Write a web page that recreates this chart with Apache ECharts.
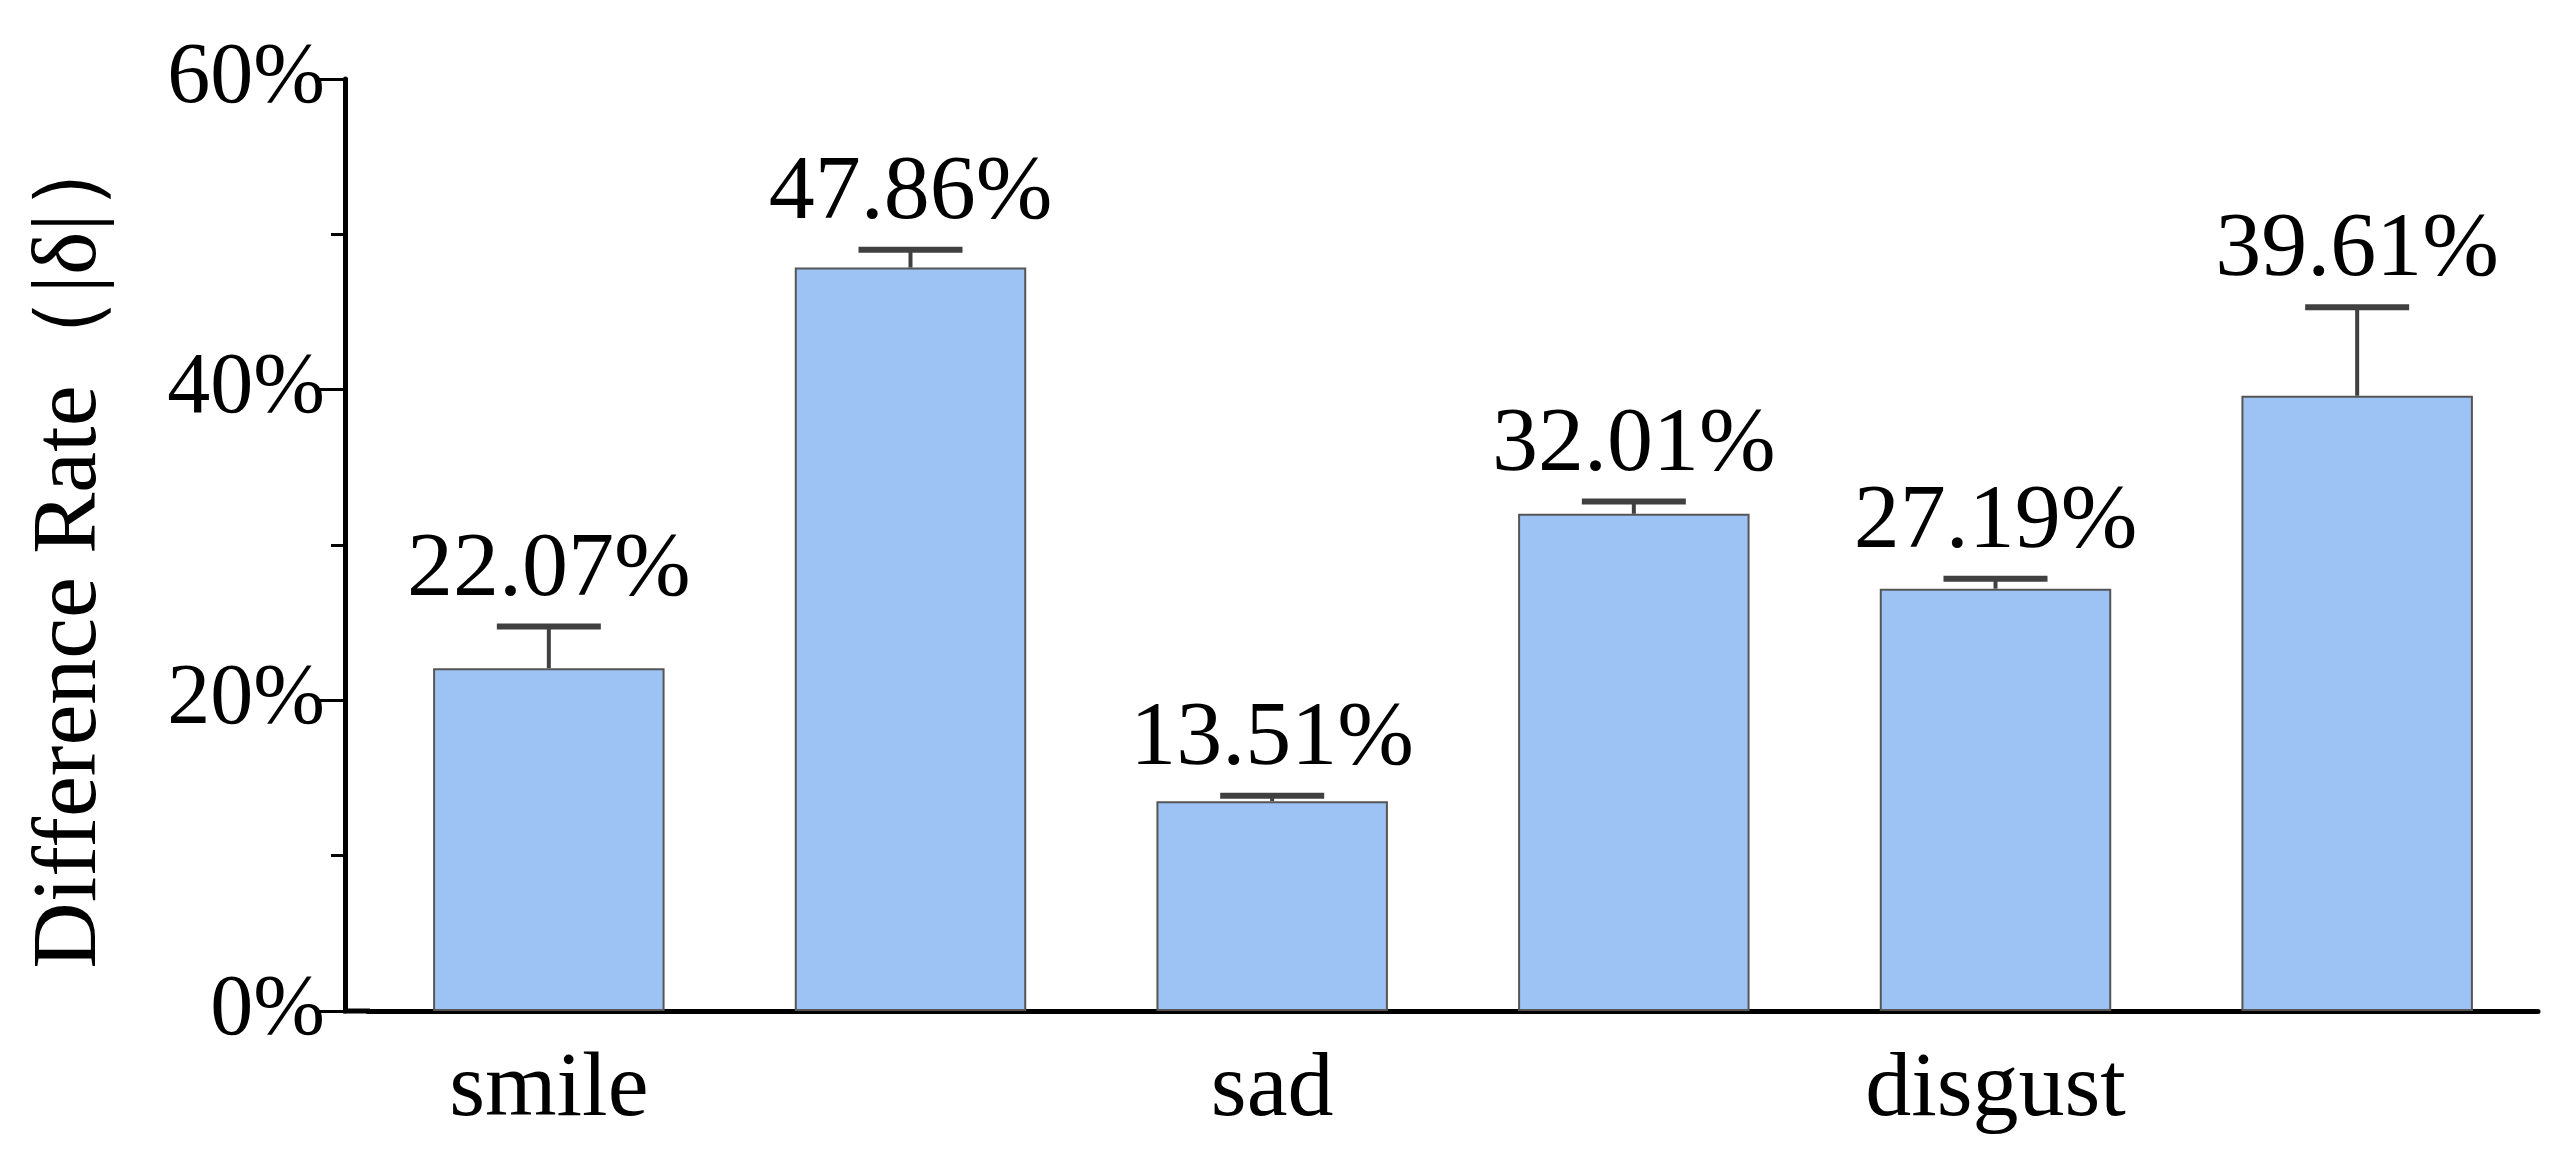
<!DOCTYPE html>
<html><head><meta charset="utf-8">
<script src="https://cdn.jsdelivr.net/npm/echarts@6/dist/echarts.min.js"></script>
<style>html,body{margin:0;padding:0;background:#fff}#c{width:2564px;height:1168px}</style>
</head><body><div id="c"></div>
<script>
const categories = ['smile','anger','sad','surprise','disgust','fear'];
const values = [22.07, 47.86, 13.51, 32.01, 27.19, 39.61];
const errorTops = [24.76, 49.0, 13.86, 32.8, 27.83, 45.3];
const yTicks = [0, 20, 40, 60];

const F = 'Liberation Serif, Times New Roman, serif';
const chart = echarts.init(document.getElementById('c'));
chart.setOption({
  animation: false,
  grid: {left: 368, right: 26, top: 79, bottom: 157},
  graphic: [{type: 'line', shape: {x1: 343, y1: 1011, x2: 370, y2: 1011}, style: {stroke: '#000', lineWidth: 5}}],
  xAxis: {
    type: 'category', data: categories,
    axisLine: {lineStyle: {color: '#000', width: 5}},
    axisTick: {alignWithLabel: true, length: 26, lineStyle: {color: '#000', width: 3}},
    axisLabel: {fontFamily: F, fontSize: 92, color: '#000', margin: 34}
  },
  yAxis: {
    type: 'value', min: 0, max: 60, interval: 20, offset: 23,
    name: 'Difference Rate（|δ|）', nameLocation: 'middle', nameGap: 228,
    nameTextStyle: {fontFamily: F, fontSize: 92, color: '#000'},
    axisLine: {show: true, lineStyle: {color: '#000', width: 5}},
    axisTick: {show: true, length: 26, lineStyle: {color: '#000', width: 3}},
    minorTick: {show: true, splitNumber: 2, length: 14, lineStyle: {color: '#000', width: 3}},
    splitLine: {show: false},
    axisLabel: {fontFamily: F, fontSize: 86, color: '#000', margin: 20, formatter: v => v + '%'}
  },
  series: [{
    type: 'bar', data: values, barWidth: '64%',
    itemStyle: {color: '#9DC3F5', borderColor: '#555', borderWidth: 2}
  }, {
    type: 'custom',
    data: categories.map((c, i) => [i, values[i], errorTops[i]]),
    renderItem: (params, api) => {
      const base = api.coord([api.value(0), api.value(1)]);
      const top = api.coord([api.value(0), api.value(2)]);
      const hw = 52;
      return {type: 'group', children: [
        {type: 'line', shape: {x1: base[0], y1: base[1], x2: top[0], y2: top[1]}, style: {stroke: '#404040', lineWidth: 4}},
        {type: 'line', shape: {x1: top[0]-hw, y1: top[1], x2: top[0]+hw, y2: top[1]}, style: {stroke: '#404040', lineWidth: 6}},
        {type: 'text', style: {text: values[params.dataIndex].toFixed(2) + '%', x: top[0], y: top[1] - 10,
          align: 'center', verticalAlign: 'bottom', font: '92px ' + F, fill: '#000'}}
      ]};
    },
    z: 5
  }]
});
</script></body></html>
